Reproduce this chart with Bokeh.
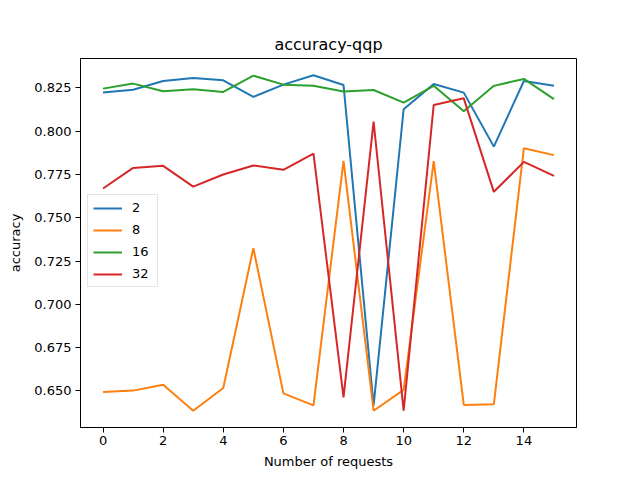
from bokeh.plotting import figure
from bokeh.models import Range1d, FixedTicker, NumeralTickFormatter, Legend, LegendItem
from bokeh.embed import file_html
from bokeh.resources import INLINE

x_requests = list(range(16))
series_names = ["2", "8", "16", "32"]
acc_2 = [0.8223, 0.8240, 0.8290, 0.8308, 0.8294, 0.8198, 0.8269, 0.8323,
         0.8267, 0.6415, 0.8127, 0.8273, 0.8223, 0.7911, 0.8290, 0.8262]
acc_8 = [0.6494, 0.6502, 0.6536, 0.6386, 0.6517, 0.7325, 0.6486, 0.6417,
         0.7829, 0.6386, 0.6506, 0.7827, 0.6419, 0.6423, 0.7902, 0.7862]
acc_16 = [0.8246, 0.8275, 0.8231, 0.8242, 0.8227, 0.8321, 0.8269, 0.8263,
          0.8229, 0.8238, 0.8165, 0.8262, 0.8115, 0.8262, 0.8302, 0.8185]
acc_32 = [0.7669, 0.7788, 0.7800, 0.7680, 0.7750, 0.7802, 0.7777, 0.7871,
          0.6463, 0.8056, 0.6386, 0.8152, 0.8190, 0.7650, 0.7823, 0.7742]
x_ticks = [0, 2, 4, 6, 8, 10, 12, 14]
y_ticks = [0.650, 0.675, 0.700, 0.725, 0.750, 0.775, 0.800, 0.825]
colors = ["#1f77b4", "#ff7f0e", "#2ca02c", "#d62728"]

p = figure(width=640, height=480, output_backend="svg", toolbar_location=None,
           title="accuracy-qqp",
           x_range=Range1d(-0.75, 15.75), y_range=Range1d(0.6289, 0.8420),
           min_border_left=80, min_border_right=64, min_border_top=58, min_border_bottom=53)
p.background_fill_color = "white"
p.border_fill_color = "white"
p.outline_line_color = "black"
p.outline_line_width = 1
p.xgrid.visible = False
p.ygrid.visible = False

p.title.align = "center"
p.title.text_font = "DejaVu Sans"
p.title.text_font_size = "16px"
p.title.text_font_style = "normal"
p.title.text_color = "black"
p.title.offset = 0
p.title.standoff = 10

for ax in (p.xaxis[0], p.yaxis[0]):
    ax.axis_line_color = "black"
    ax.major_tick_line_color = "black"
    ax.minor_tick_line_color = None
    ax.major_tick_out = 5
    ax.major_tick_in = 0
    ax.major_label_text_font = "DejaVu Sans"
    ax.major_label_text_font_size = "13px"
    ax.major_label_text_color = "black"
    ax.axis_label_text_font = "DejaVu Sans"
    ax.axis_label_text_font_size = "13px"
    ax.axis_label_text_font_style = "normal"
    ax.axis_label_text_color = "black"

p.xaxis.ticker = FixedTicker(ticks=x_ticks)
p.yaxis.ticker = FixedTicker(ticks=y_ticks)
p.yaxis.formatter = NumeralTickFormatter(format="0.000")
p.xaxis.axis_label = "Number of requests"
p.yaxis.axis_label = "accuracy"
p.xaxis.major_label_standoff = 3
p.yaxis.major_label_standoff = 4
p.xaxis.axis_label_standoff = 6
p.yaxis.axis_label_standoff = 8

items = []
for name, ys, c in zip(series_names, [acc_2, acc_8, acc_16, acc_32], colors):
    r = p.line(x_requests, ys, line_color=c, line_width=2)
    items.append(LegendItem(label=name, renderers=[r]))

legend = Legend(items=items, location=(7, 140))
legend.label_text_font = "DejaVu Sans"
legend.label_text_font_size = "13px"
legend.label_text_color = "black"
legend.glyph_width = 29
legend.glyph_height = 14
legend.label_height = 14
legend.label_standoff = 10
legend.spacing = 7
legend.padding = 5
legend.margin = 0
legend.border_line_color = "#cccccc"
legend.border_line_width = 1
legend.background_fill_alpha = 0.8
p.add_layout(legend, "center")

open("out.html", "w").write(file_html(p, INLINE))
